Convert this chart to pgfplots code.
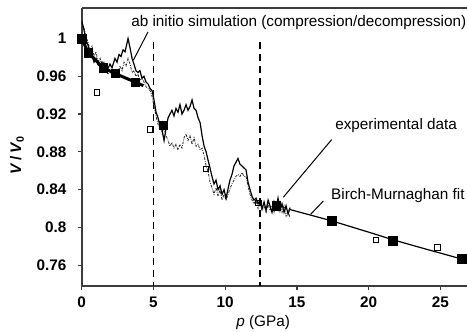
\documentclass[border=0pt]{standalone}
\usepackage{pgfplots}
\pgfplotsset{compat=1.18}
\usepackage{fontspec}
\setmainfont{Liberation Sans}
\definecolor{axgray}{RGB}{60,60,60}
\begin{document}
\fontsize{15.3bp}{18bp}\selectfont
\begin{tikzpicture}
\useasboundingbox (-81.7bp,-46bp) rectangle (385.3bp,286bp);
\begin{axis}[name=ax,
  at={(0,0)}, anchor=south west,
  width=385.3bp, height=277.7bp, scale only axis,
  xmin=0, xmax=26.85, ymin=0.738, ymax=1.032,
  axis lines=left, axis line style={-, line width=1.8bp, color=axgray},
  tick align=outside, major tick length=4bp,
  tick style={line width=1.2bp, color=axgray},
  xtick={0,5,10,15,20,25},
  ytick={0.76,0.8,0.84,0.88,0.92,0.96,1},
  yticklabels={0.76,0.8,0.84,0.88,0.92,0.96,1},
  /pgf/number format/assume math mode=true,
  ticklabel style={font=\fontsize{15.3bp}{18bp}\selectfont\bfseries},
  yticklabel style={xshift=-6bp},
  xticklabel style={yshift=-2bp},
  xlabel={\textit{p} (GPa)},
  xlabel style={at={(axis description cs:0.471,0)}, anchor=center, yshift=-37bp, font=\fontsize{15.3bp}{18bp}\selectfont},
]
% vertical dashed lines
\addplot[black, line width=1.3bp, dash pattern=on 7bp off 5bp] coordinates {(5.0,0.996) (5.0,0.738)};
\addplot[black, line width=1.3bp, dash pattern=on 7bp off 5bp] coordinates {(12.43,0.996) (12.43,0.738)};
% simulation (dashed)
\addplot[black!85, line width=0.8bp, dash pattern=on 2.5bp off 1.2bp on 0.8bp off 1.2bp] coordinates {
(0,1.017)(0.16,1.011)(0.30,1.002)(0.44,0.996)(0.58,0.988)(0.72,0.992)(0.86,0.981)(1.0,0.986)(1.14,0.975)(1.28,0.979)
(1.41,0.971)(1.55,0.975)(1.69,0.966)(1.83,0.962)(1.97,0.966)(2.11,0.960)(2.25,0.966)(2.39,0.962)(2.53,0.964)(2.67,0.971)
(2.81,0.966)(2.95,0.975)(3.09,0.971)(3.23,0.979)(3.37,0.973)(3.51,0.964)(3.64,0.966)(3.78,0.960)(3.92,0.962)(4.06,0.956)
(4.20,0.958)(4.34,0.954)(4.48,0.949)(4.62,0.947)(4.76,0.945)(4.90,0.939)(5.04,0.928)(5.18,0.918)(5.32,0.909)(5.46,0.905)
(5.60,0.901)(5.74,0.905)(5.88,0.897)(6.02,0.892)(6.15,0.886)(6.29,0.890)(6.43,0.884)(6.57,0.888)(6.71,0.882)(6.85,0.888)
(6.99,0.884)(7.13,0.895)(7.27,0.899)(7.41,0.892)(7.55,0.897)(7.69,0.888)(7.83,0.895)(7.97,0.886)(8.11,0.888)(8.25,0.882)
(8.39,0.884)(8.53,0.876)(8.67,0.865)(8.81,0.859)(8.94,0.848)(9.08,0.842)(9.22,0.835)(9.36,0.842)(9.50,0.833)(9.64,0.840)
(9.78,0.829)(9.92,0.835)(10.06,0.829)(10.2,0.835)(10.33,0.841)(10.47,0.846)(10.61,0.850)(10.75,0.854)(10.89,0.856)(11.03,0.854)
(11.17,0.858)(11.31,0.854)(11.45,0.854)(11.59,0.844)(11.73,0.835)(11.87,0.829)(12.0,0.825)(12.15,0.829)(12.29,0.820)(12.43,0.825)
(12.57,0.818)(12.71,0.822)(12.85,0.816)(12.99,0.825)(13.12,0.818)(13.26,0.823)(13.4,0.816)(13.54,0.825)(13.68,0.818)(13.82,0.827)
(13.96,0.816)(14.1,0.823)(14.24,0.812)(14.38,0.818)(14.52,0.810)};
% simulation (solid)
\addplot[black, line width=1.2bp] coordinates {
(0,1.019)(0.16,1.009)(0.30,0.998)(0.44,0.993)(0.58,0.985)(0.72,0.982)(0.86,0.975)(1.0,0.979)(1.14,0.972)(1.28,0.971)
(1.41,0.975)(1.55,0.969)(1.76,0.966)(1.97,0.973)(2.11,0.969)(2.32,0.979)(2.46,0.975)(2.60,0.983)(2.74,0.981)(2.88,0.988)
(3.02,0.986)(3.23,1.000)(3.37,0.990)(3.51,0.979)(3.64,0.973)(3.78,0.966)(3.92,0.964)(4.06,0.966)(4.20,0.958)(4.34,0.960)
(4.48,0.954)(4.62,0.952)(4.76,0.947)(4.90,0.945)(5.04,0.935)(5.18,0.922)(5.32,0.916)(5.46,0.907)(5.60,0.903)(5.74,0.892)
(5.88,0.905)(6.02,0.916)(6.15,0.920)(6.29,0.924)(6.43,0.918)(6.57,0.926)(6.71,0.922)(6.85,0.930)(6.99,0.920)(7.13,0.924)
(7.27,0.930)(7.41,0.924)(7.55,0.928)(7.69,0.935)(7.83,0.926)(7.97,0.924)(8.11,0.916)(8.25,0.911)(8.39,0.897)(8.53,0.886)
(8.67,0.880)(8.81,0.871)(8.94,0.863)(9.08,0.854)(9.22,0.846)(9.36,0.850)(9.50,0.840)(9.64,0.844)(9.78,0.835)(9.92,0.840)
(10.06,0.831)(10.2,0.841)(10.33,0.850)(10.47,0.856)(10.61,0.865)(10.75,0.869)(10.89,0.873)(11.03,0.867)(11.17,0.865)(11.31,0.863)
(11.45,0.861)(11.59,0.848)(11.73,0.840)(11.87,0.833)(12.0,0.829)(12.15,0.831)(12.29,0.825)(12.43,0.829)(12.57,0.820)(12.71,0.827)
(12.85,0.818)(12.99,0.829)(13.12,0.823)(13.26,0.816)(13.4,0.827)(13.54,0.820)(13.68,0.831)(13.82,0.818)(13.96,0.825)(14.1,0.816)
(14.24,0.823)(14.38,0.814)(14.52,0.821)};
% Birch-Murnaghan fit
\addplot[black, line width=3bp] coordinates {(0,1.0)(0.46,0.985)(1.5,0.969)(2.32,0.963)(3.71,0.954)(4.3,0.950)};
\addplot[black, line width=1.2bp] coordinates {(14.5,0.819)(17.42,0.807)(20,0.795)(21.67,0.787)(24,0.777)(26.85,0.765)};
% experimental data
\addplot[only marks, mark=square*, mark size=4.2bp, black] coordinates {
(0,1.0)(0.46,0.985)(1.5,0.969)(2.32,0.963)(3.71,0.954)(5.69,0.908)(13.55,0.823)(17.42,0.807)(21.67,0.786)(26.48,0.767)};
\addplot[only marks, mark=square, mark size=2.7bp, black, line width=0.8bp, fill=white] coordinates {
(1.05,0.943)(4.76,0.904)(8.64,0.862)(12.3,0.826)(20.49,0.787)(24.78,0.779)};
% annotation leader lines
\addplot[black, line width=1bp] coordinates {(4.62,1.007)(3.6,0.977)};
\addplot[black, line width=1bp] coordinates {(17.42,0.893)(14.05,0.832)};
\addplot[black, line width=1bp] coordinates {(16.84,0.828)(15.96,0.814)};
\node[anchor=west, inner sep=0pt] at (axis cs:3.44,1.0167) {ab initio simulation (compression/decompression)};
\node[anchor=west, inner sep=0pt] at (axis cs:17.66,0.908) {experimental data};
\node[anchor=west, inner sep=0pt] at (axis cs:17.37,0.834) {Birch-Murnaghan fit};
\end{axis}
\draw[line width=1.8bp, color=axgray] (ax.north west) -- (ax.north east);
\path (ax.south west) ++(-64.7bp,131.1bp) node[rotate=90, anchor=center, inner sep=0pt] {\textbf{\textit{V}\,/\,\textit{V}\textsubscript{0}}};
\end{tikzpicture}
\end{document}
